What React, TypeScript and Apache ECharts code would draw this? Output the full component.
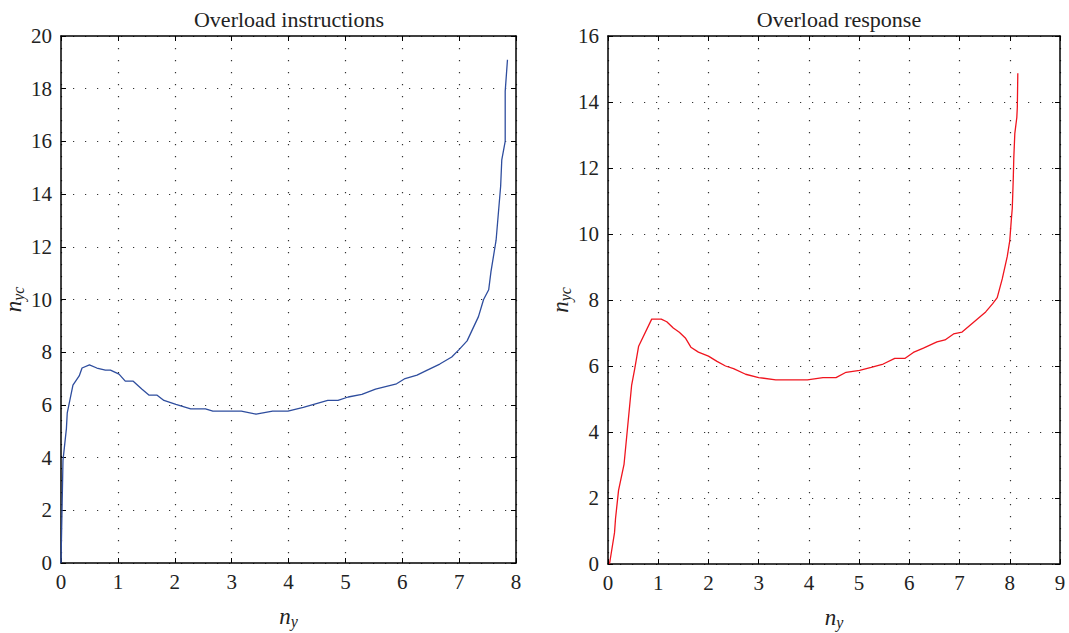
import React, { useEffect, useRef } from "react";
import * as echarts from "echarts";

// Overload instructions (blue)
const instrX = [0, 0.018, 0.035, 0.06, 0.095, 0.11, 0.21, 0.32, 0.37, 0.5, 0.63, 0.78, 0.87, 1.02, 1.13, 1.27, 1.42, 1.55, 1.69, 1.81, 2.02, 2.28, 2.54, 2.67, 3.17, 3.43, 3.72, 3.99, 4.26, 4.69, 4.87, 5.05, 5.29, 5.53, 5.9, 6.05, 6.26, 6.44, 6.66, 6.87, 6.99, 7.14, 7.34, 7.43, 7.52, 7.56, 7.65, 7.73, 7.75, 7.81, 7.81, 7.85];
const instrY = [0, 2.0, 3.9, 4.4, 5.1, 5.7, 6.75, 7.1, 7.4, 7.52, 7.4, 7.32, 7.32, 7.17, 6.9, 6.9, 6.6, 6.37, 6.37, 6.17, 6.02, 5.85, 5.85, 5.76, 5.76, 5.65, 5.76, 5.76, 5.91, 6.17, 6.17, 6.3, 6.4, 6.6, 6.8, 7.0, 7.13, 7.32, 7.55, 7.82, 8.08, 8.43, 9.35, 10.0, 10.37, 11.06, 12.25, 14.3, 15.3, 16.0, 17.9, 19.1];

// Overload response (red)
const respX = [0.03, 0.13, 0.15, 0.21, 0.32, 0.47, 0.53, 0.61, 0.87, 1.06, 1.17, 1.3, 1.42, 1.54, 1.65, 1.8, 2.0, 2.17, 2.34, 2.5, 2.74, 3.0, 3.34, 3.97, 4.28, 4.54, 4.74, 5.01, 5.24, 5.48, 5.71, 5.91, 6.08, 6.28, 6.55, 6.71, 6.88, 7.05, 7.18, 7.35, 7.52, 7.66, 7.75, 7.85, 7.95, 8.0, 8.03, 8.05, 8.07, 8.08, 8.1, 8.14, 8.15, 8.16];
const respY = [0, 0.95, 1.38, 2.23, 3.03, 5.41, 5.9, 6.6, 7.42, 7.42, 7.34, 7.15, 7.02, 6.85, 6.57, 6.42, 6.3, 6.14, 6.0, 5.92, 5.75, 5.65, 5.58, 5.58, 5.65, 5.65, 5.81, 5.87, 5.96, 6.06, 6.23, 6.23, 6.41, 6.54, 6.73, 6.79, 6.97, 7.03, 7.2, 7.42, 7.64, 7.89, 8.07, 8.64, 9.32, 9.8, 10.42, 10.78, 11.7, 12.3, 13.04, 13.53, 13.83, 14.87];

const titles = ["Overload instructions", "Overload response"];
const xMax = [8, 9];
const yMax = [20, 16];

const FONT = "Liberation Serif";

export default function App() {
  const ref = useRef<HTMLDivElement>(null);
  useEffect(() => {
    if (!ref.current) return;
    const chart = echarts.init(ref.current, undefined, { renderer: "svg" });
    const grids = [
      { left: 61, right: 553, top: 36, bottom: 70, containLabel: false, outerBoundsMode: "none" },
      { left: 608, right: 9, top: 36, bottom: 69, containLabel: false, outerBoundsMode: "none" },
    ];
    const tick = () => ({ show: true, inside: true, length: 5, lineStyle: { color: "#000", width: 1 } });
    const axisLine = () => ({ show: true, onZero: false, lineStyle: { color: "#000", width: 1.5 } });
    const split = () => ({ show: true, lineStyle: { color: "#333", width: 1.2, type: [1.2, 10.8] } });
    const label = (m: number) => ({ margin: m, color: "#222", fontFamily: FONT, fontSize: 21 });
    const nameRich = () => ({
      a: { fontFamily: FONT, fontStyle: "italic", fontSize: 23, color: "#222" },
      b: { fontFamily: FONT, fontStyle: "italic", fontSize: 16, color: "#222", padding: [10, 0, 0, 0] },
    });
    const xAxis: any[] = [];
    const yAxis: any[] = [];
    [0, 1].forEach((i) => {
      xAxis.push({
        type: "value", gridIndex: i, min: 0, max: xMax[i], interval: 1, position: "bottom",
        axisLine: axisLine(), axisTick: tick(), splitLine: split(), axisLabel: label(8),
        name: "{a|n}{b|y}", nameLocation: "middle", nameGap: 40,
        nameTextStyle: { fontFamily: FONT, rich: nameRich() },
      });
      xAxis.push({
        type: "value", gridIndex: i, min: 0, max: xMax[i], interval: 1, position: "top",
        axisLine: axisLine(), axisTick: tick(), splitLine: { show: false }, axisLabel: { show: false },
      });
      yAxis.push({
        type: "value", gridIndex: i, min: 0, max: yMax[i], interval: 2, position: "left",
        axisLine: axisLine(), axisTick: tick(), splitLine: split(), axisLabel: label(9),
        name: "{a|n}{b|yc}", nameLocation: "middle", nameGap: 35,
        nameTextStyle: { fontFamily: FONT, rich: nameRich() },
      });
      yAxis.push({
        type: "value", gridIndex: i, min: 0, max: yMax[i], interval: 2, position: "right",
        axisLine: axisLine(), axisTick: tick(), splitLine: { show: false }, axisLabel: { show: false },
      });
    });
    chart.setOption({
      animation: false,
      backgroundColor: "#fff",
      textStyle: { fontFamily: FONT },
      title: [
        { text: titles[0], left: 284, top: 3, textAlign: "center", textStyle: { fontFamily: FONT, fontSize: 22, fontWeight: "normal", color: "#222" } },
        { text: titles[1], left: 834, top: 3, textAlign: "center", textStyle: { fontFamily: FONT, fontSize: 22, fontWeight: "normal", color: "#222" } },
      ],
      grid: grids,
      xAxis,
      yAxis,
      series: [
        {
          type: "line", xAxisIndex: 0, yAxisIndex: 0, showSymbol: false, symbol: "none",
          data: instrX.map((x, k) => [x, instrY[k]]),
          lineStyle: { color: "#2e4d9e", width: 1.3 },
        },
        {
          type: "line", xAxisIndex: 2, yAxisIndex: 2, showSymbol: false, symbol: "none",
          data: respX.map((x, k) => [x, respY[k]]),
          lineStyle: { color: "#f0141e", width: 1.3 },
        },
      ],
    });
    return () => chart.dispose();
  }, []);
  return <div ref={ref} style={{ position: "absolute", left: 0, top: 0, width: 1069, height: 633, background: "#fff" }} />;
}
